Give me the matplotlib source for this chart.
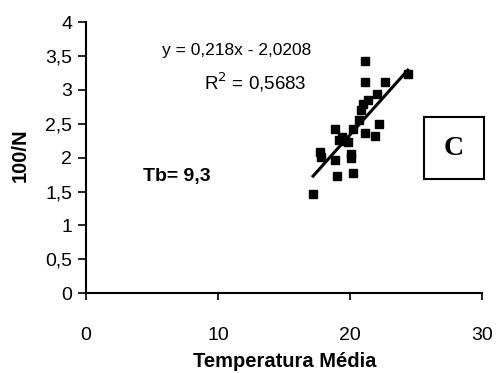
import numpy as np
import matplotlib
matplotlib.use('Agg')
import matplotlib.pyplot as plt
from matplotlib.patches import Rectangle

plt.rcParams['font.family'] = ['Liberation Sans', 'DejaVu Sans']

# Mean temperature vs 100/N
temp = [21.16, 21.16, 22.68, 24.37, 22.07, 21.36, 20.96, 20.83, 20.68, 20.23,
        18.84, 22.17, 21.16, 21.92, 19.20, 19.40, 19.60, 19.87, 17.73, 17.77,
        20.05, 20.05, 18.86, 19.04, 20.23, 17.20]
inv_n = [3.43, 3.11, 3.11, 3.23, 2.94, 2.85, 2.79, 2.70, 2.56, 2.43,
         2.43, 2.49, 2.37, 2.32, 2.26, 2.30, 2.24, 2.23, 2.09, 2.01,
         2.05, 1.99, 1.97, 1.73, 1.78, 1.46]
slope, intercept = 0.218, -2.0208
r2 = 0.5683
xticks = [0, 10, 20, 30]
yticks = [0, 0.5, 1, 1.5, 2, 2.5, 3, 3.5, 4]

fig = plt.figure(figsize=(4.97, 3.73), dpi=100)
ax = fig.add_axes([0.173, 0.2137, 0.797, 0.727])

ax.plot(temp, inv_n, ls='none', marker='s', ms=5.2, mfc='black', mec='black')
xl = np.array([min(temp), max(temp)])
ax.plot(xl, slope * xl + intercept, color='black', lw=2.2)

ax.set_xlim(0, 30)
ax.set_ylim(0, 4)
ax.set_xticks(xticks)
ax.set_yticks(yticks)
ax.set_xticklabels([str(t) for t in xticks])
ax.set_yticklabels([f'{t:g}'.replace('.', ',') for t in yticks])
for sk in ['top', 'right']:
    ax.spines[sk].set_visible(False)
for sk in ['left', 'bottom']:
    ax.spines[sk].set_linewidth(1.5)
ax.tick_params(axis='y', direction='out', length=6, width=1.2, labelsize=14, pad=4)
ax.tick_params(axis='x', direction='out', length=5, width=1.2, labelsize=14, pad=19)

fig.text(285 / 497, 1 - 367 / 373, 'Temperatura Média', fontsize=14.5,
         fontweight='bold', ha='center', va='baseline')
fig.text(20 / 497, 1 - 155 / 373, '100/N', fontsize=14.5, fontweight='bold',
         rotation=90, ha='center', va='center')

fig.text(237 / 497, 1 - 50 / 373, f'y = {slope:g}x - {-intercept:g}'.replace('.', ','),
         fontsize=12.5, ha='center', va='center')
fig.text(255 / 497, 1 - 82 / 373, f'R$^2$ = {r2:g}'.replace('.', ','),
         fontsize=13.5, ha='center', va='center')
fig.text(177 / 497, 1 - 177 / 373, 'Tb= 9,3', fontsize=14, fontweight='bold',
         ha='center', va='center')

fig.patches.append(Rectangle((424 / 497, 1 - 179 / 373), 60 / 497, 62 / 373,
                             transform=fig.transFigure, fill=False,
                             edgecolor='black', lw=1.5))
fig.text(454 / 497, 1 - 148 / 373, 'C', fontsize=20, fontweight='bold',
         family='Liberation Serif', ha='center', va='center')

fig.savefig('out.png', dpi=100)
